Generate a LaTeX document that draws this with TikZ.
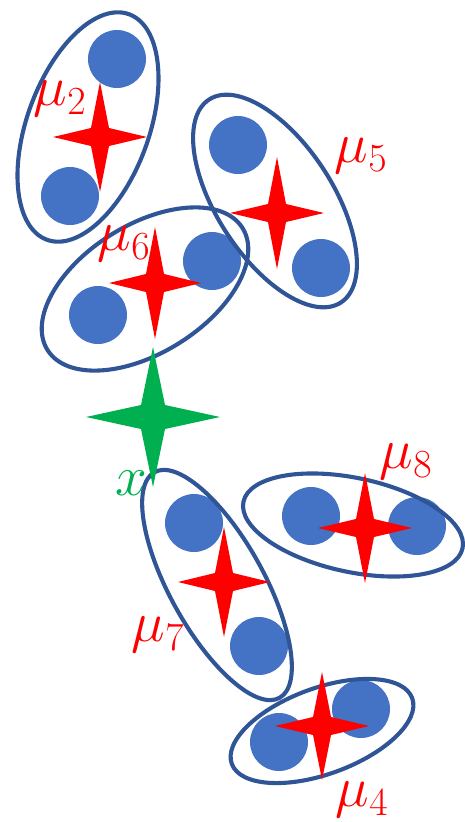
\RequirePackage{fix-cm}
\documentclass[tikz,border=0pt]{standalone}
\usepackage{tikz}
\definecolor{blobB}{RGB}{68,114,196}
\definecolor{ringB}{RGB}{47,85,151}
\definecolor{starR}{RGB}{255,0,0}
\definecolor{starG}{RGB}{0,176,80}
\tikzset{
  blob/.style={fill=blobB},
  ring/.style={draw=ringB, line width=4.1pt},
  lab/.style={text=starR, inner sep=0pt, font=\fontsize{57}{60}\selectfont},
  pics/spark/.style args={#1/#2/#3}{code={
    \fill (#1,0) -- (#3,#3) -- (0,#2) -- (-#3,#3) -- (-#1,0) -- (-#3,-#3) -- (0,-#2) -- (#3,-#3) -- cycle;
  }}
}

\begin{document}
\begin{tikzpicture}[x=1pt, y=-1pt]
\useasboundingbox (0,0) rectangle (465,822);
% sample points
\foreach \px/\py in {117/59, 70/196, 238/145, 321/268, 98/315, 212/261,
                     194/523, 259/646, 311/516, 417/526, 279/742, 361/709}
  \fill[blob] (\px,\py) circle (29);
% clusters
\draw[ring, rotate around={70:(88,127)}] (88,127) ellipse [x radius=120, y radius=61];
\draw[ring, rotate around={123:(275,201)}] (275,201) ellipse [x radius=121, y radius=58];
\draw[ring, rotate around={32:(145,289)}] (145,289) ellipse [x radius=115, y radius=64];
\draw[ring, rotate around={119:(217,585)}] (217,585) ellipse [x radius=129, y radius=47];
\draw[ring, rotate around={-12:(353,525)}] (353,525) ellipse [x radius=112, y radius=47];
\draw[ring, rotate around={20:(322,731)}] (322,731) ellipse [x radius=96, y radius=43];
% centroids
\pic[fill=starR] (c2) at (100,137) {spark=47/55/9};
\pic[fill=starR] (c5) at (277,213) {spark=47/56/9};
\pic[fill=starR] (c6) at (155,283) {spark=46/56/9};
\pic[fill=starR] (c7) at (224,582) {spark=46/55/9};
\pic[fill=starR] (c8) at (365,528) {spark=47/55/9};
\pic[fill=starR] (c4) at (322,726) {spark=47/54/9};
\pic[fill=starG] (q) at (153,417) {spark=67/70/12};
% labels
\node[lab] (mu2) at (60,99) {$\mu_2$};
\node[lab] (mu5) at (361,156) {$\mu_5$};
\node[lab] (mu6) at (124,244) {$\mu_6$};
\node[lab] (mu7) at (158,635) {$\mu_7$};
\node[lab] (mu8) at (406,462) {$\mu_8$};
\node[lab] (mu4) at (362,800) {$\mu_4$};
\node[lab, text=starG] (xq) at (131,483) {$x$};
\end{tikzpicture}
\end{document}
